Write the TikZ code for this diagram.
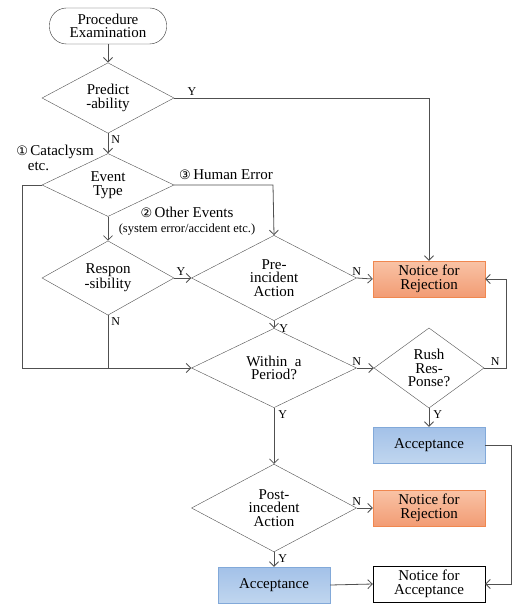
\documentclass[tikz,border=0pt]{standalone}
\usepackage{fontspec}
\setmainfont{Liberation Serif}
\newfontfamily\chartfont{Liberation Serif}
\newfontfamily\circfont{DejaVu Sans}
\usepackage{tikz}
\usetikzlibrary{shapes.geometric,arrows.meta}

\definecolor{linegray}{HTML}{505050}
\definecolor{rejtop}{HTML}{F9C3A6}
\definecolor{rejbot}{HTML}{F29C74}
\definecolor{rejline}{HTML}{F0874F}
\definecolor{acctop}{HTML}{A3C1E8}
\definecolor{accbot}{HTML}{C0D6EF}
\definecolor{accline}{HTML}{82A9D9}

\begin{document}
\begin{tikzpicture}[
        x=1pt, y=-1pt,
        every node/.style={font=\chartfont},
        start_block/.style={draw=black!80, rectangle, rounded corners=17pt, minimum width=117pt, minimum height=36pt, align=center, font=\chartfont\fontsize{15}{13.5}\selectfont},
        decision/.style={draw=linegray, diamond, inner sep=0pt, align=center, font=\chartfont\fontsize{15}{13.5}\selectfont},
        reject_block/.style={rectangle, minimum width=112pt, minimum height=36pt, align=center, top color=rejtop, bottom color=rejbot, draw=rejline, font=\chartfont\fontsize{15}{13.5}\selectfont},
        accept_block/.style={rectangle, minimum width=112pt, minimum height=36pt, align=center, top color=acctop, bottom color=accbot, draw=accline, font=\chartfont\fontsize{15}{13.5}\selectfont},
        notice_block/.style={draw=black, rectangle, minimum width=112pt, minimum height=36pt, align=center, font=\chartfont\fontsize{15}{13.5}\selectfont},
        arrow/.style={arrows={-Straight Barb[length=4.5pt,width=9pt]}, draw=linegray, line width=0.8pt},
        line/.style={draw=linegray, line width=0.8pt},
        label_yn/.style={font=\chartfont\fontsize{12}{12}\selectfont, inner sep=2pt},
        label_evt/.style={font=\chartfont\fontsize{15}{15}\selectfont, inner sep=1pt}
    ]
        \useasboundingbox (0,0) rectangle (514,604);

        % Left column
        \node (start) at (108,26) [start_block] {Procedure\\Examination};
        \node (predict) at (108,98) [decision, minimum width=132pt, minimum height=63pt] {Predict\\-ability};
        \node (event) at (108,185) [decision, minimum width=132pt, minimum height=63pt] {Event\\Type};
        \node (resp) at (108,278) [decision, minimum width=132pt, minimum height=63pt] {Respon\\-sibility};

        % Middle column
        \node (pre) at (274,278) [decision, minimum width=165pt, minimum height=63pt] {Pre-\\incident\\Action};
        \node (within) at (274,368) [decision, minimum width=165pt, minimum height=63pt] {Within~~a\\Period?};
        \node (post) at (274,508) [decision, minimum width=165pt, minimum height=63pt] {Post-\\incedent\\Action};
        \node (acc2) at (274,585) [accept_block] {Acceptance};

        % Right column
        \node (rej1) at (429,279) [reject_block] {Notice for\\Rejection};
        \node (rush) at (429,368) [decision, minimum width=110pt, minimum height=70pt] {Rush\\Res-\\Ponse?};
        \node (acc1) at (429,445) [accept_block] {Acceptance};
        \node (rej2) at (429,508) [reject_block] {Notice for\\Rejection};
        \node (nacc) at (429,584) [notice_block] {Notice for\\Acceptance};

        % Event type labels
        \node (lbl_cat) at (55,158) [label_evt, align=left] {{\circfont\fontsize{13}{13}\selectfont ①}\,Cataclysm\\\hphantom{{\circfont\fontsize{13}{13}\selectfont ①}}etc.};
        \node (lbl_human) at (226,175) [label_evt] {{\circfont\fontsize{13}{13}\selectfont ③}\,Human Error};
        \node (lbl_other) at (187,221) [label_evt, align=center] {{\circfont\fontsize{13}{13}\selectfont ②}\,Other Events\\{\fontsize{12.5}{12}\selectfont (system error/accident etc.)}};

        % Corner points
        \coordinate (cat_top) at (22,185);
        \coordinate (cat_bot) at (22,368);
        \coordinate (human_turn) at (273,185);
        \coordinate (rush_turn) at (506,368);
        \coordinate (acc_turn) at (511,445);

        % Connections
        \draw [arrow] (start) -- (predict);
        \draw [arrow] (predict.east) -| (rej1.north) node[pos=0.035, above, label_yn] {Y};
        \draw [arrow] (predict.south) -- (event.north) node[at start, below right, label_yn, xshift=1pt] {N};

        \draw [arrow] (event.west) -- (cat_top) -- (cat_bot) -- (within.west);
        \draw [arrow] (event.east) -- (human_turn) -- (pre.north);
        \draw [arrow] (event.south) -- (resp.north);

        \draw [arrow] (resp.east) -- (pre.west) node[at start, above right, label_yn] {Y};
        \draw [line] (resp.south) -- (resp.south |- cat_bot) node[at start, below right, label_yn, xshift=1pt] {N};

        \draw [arrow] (pre.east) -- (rej1.west) node[at start, above, label_yn] {N};
        \draw [arrow] (pre.south) -- (within.north) node[at start, below right, label_yn, xshift=3pt, yshift=-1pt] {Y};

        \draw [arrow] (within.east) -- (rush.west) node[at start, above, label_yn] {N};
        \draw [arrow] (rush.east) -- (rush_turn) node[midway, above, label_yn] {N} |- (rej1.east);
        \draw [arrow] (rush.south) -- (acc1.north) node[at start, below right, label_yn, xshift=2pt] {Y};
        \draw [arrow] (acc1.east) -- (acc_turn) |- (nacc.east);

        \draw [arrow] (within.south) -- (post.north) node[at start, below right, label_yn, xshift=2pt] {Y};
        \draw [arrow] (post.east) -- (rej2.west) node[at start, above, label_yn] {N};
        \draw [arrow] (post.south) -- (acc2.north) node[at start, below right, label_yn, xshift=2pt] {Y};
        \draw [arrow] (acc2.east) -- (nacc.west);

    \end{tikzpicture}
\end{document}
